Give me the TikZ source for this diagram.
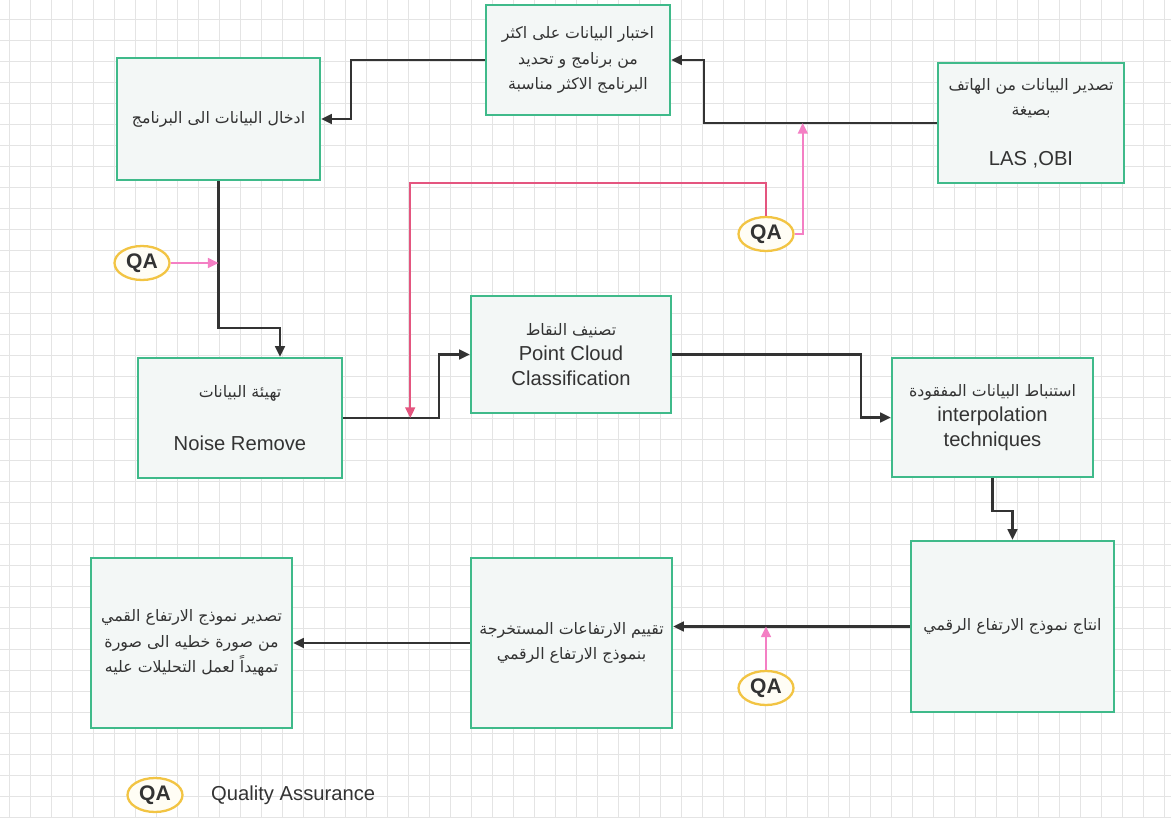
\documentclass[tikz,border=0pt]{standalone}
\usepackage{fontspec}
\setmainfont{Liberation Sans}
\newfontfamily\arabicfont[Script=Arabic]{DejaVu Sans}
\TeXXeTstate=1
\usetikzlibrary{arrows.meta,calc,shapes.geometric}
\definecolor{boxgreen}{HTML}{3FBA8A}
\definecolor{boxfill}{HTML}{F3F7F6}
\definecolor{qaedge}{HTML}{F2C443}
\definecolor{qafill}{HTML}{FFFDF5}
\definecolor{linkgray}{HTML}{333333}
\definecolor{qapink}{HTML}{F47FC4}
\definecolor{qared}{HTML}{E4557F}
\definecolor{gridgray}{HTML}{E4E4E4}
\definecolor{textgray}{HTML}{333333}
\newcommand{\arline}[1]{{\arabicfont\fontsize{9}{14}\selectfont\beginR #1\endR}}
\tikzset{
  stepbox/.style 2 args={draw=boxgreen, line width=1.4pt, fill=boxfill,
    minimum width=#1*0.02cm, minimum height=#2*0.02cm, inner sep=0pt,
    align=center, text=textgray, font=\fontsize{11.5}{14.3}\selectfont},
  qa/.style={ellipse, draw=qaedge, line width=1.3pt, fill=qafill, inner sep=0pt,
    minimum width=1.1cm, minimum height=0.68cm, text=textgray,
    font=\bfseries\fontsize{12}{14}\selectfont},
  link/.style={draw=linkgray, line width=1.2pt, -{Triangle[length=6pt,width=5.5pt]}},
  qalink/.style={draw=qapink, line width=1.2pt, -{Triangle[length=6pt,width=5.5pt]}},
  gridline/.style={draw=gridgray, line width=0.5pt}
}
\begin{document}
\begin{tikzpicture}[x=0.02cm, y=-0.02cm]
  \useasboundingbox (0,0) rectangle (1171,818);
  \fill[white] (0,0) rectangle (1171,818);
  % background grid
  \foreach \gx in {9,30,...,1171} \draw[gridline] (\gx,0) -- (\gx,818);
  \foreach \gy in {19,40,...,818} \draw[gridline] (0,\gy) -- (1171,\gy);

  % steps
  \node[stepbox={184}{110}] (choose) at (578,60)
    {\arline{اختبار البيانات على اكثر}\\\arline{من برنامج و تحديد}\\\arline{البرنامج الاكثر مناسبة}};
  \node[stepbox={186}{120}] (phone) at (1031,123)
    {\arline{تصدير البيانات من الهاتف}\\\arline{بصيغة}\\[14pt]LAS ,OBI};
  \node[stepbox={203}{122}] (load) at (218.5,119)
    {\arline{ادخال البيانات الى البرنامج}};
  \node[stepbox={204}{120}] (noise) at (240,418)
    {\arline{تهيئة البيانات}\\[16pt]Noise Remove};
  \node[stepbox={200}{117}] (classify) at (571,354.5)
    {\arline{تصنيف النقاط}\\Point Cloud\\Classification};
  \node[stepbox={201}{119}] (interp) at (992.5,417.5)
    {\arline{استنباط البيانات المفقودة}\\interpolation\\techniques};
  \node[stepbox={203}{171}] (dem) at (1012.5,626.5)
    {\arline{انتاج نموذج الارتفاع الرقمي}};
  \node[stepbox={201}{170}] (evaluate) at (571.5,643)
    {\arline{تقييم الارتفاعات المستخرجة}\\\arline{بنموذج الارتفاع الرقمي}};
  \node[stepbox={201}{170}] (export) at (191.5,643)
    {\arline{تصدير نموذج الارتفاع القمي}\\\arline{من صورة خطيه الى صورة}\\\arline{تمهيداً لعمل التحليلات عليه}};

  % quality checks
  \node[qa] (qa1) at (142,263) {QA};
  \node[qa] (qa2) at (766,234) {QA};
  \node[qa] (qa3) at (766,688) {QA};
  \node[qa] (qakey) at (155,795) {QA};
  \node[anchor=west, text=textgray, font=\fontsize{11.5}{14}\selectfont] (qatext) at (205,795) {Quality Assurance};

  % flow
  \draw[link] (phone.west) -| ($(choose.east)+(33,0)$) -- (choose.east);
  \draw[link] (choose.west) -| ($(load.east)+(30,0)$) -- (load.east);
  \draw[link] (load.south) -- ++(0,147) -| ($(noise.north)+(40,0)$);
  \draw[link] (noise.east) -- ++(96,0) |- (classify.west);
  \draw[link] (classify.east) -- ++(189,0) |- (interp.west);
  \draw[link] (interp.south) -- ++(0,33) -| (dem.north);
  \draw[link] (dem.west) -- (dem.west -| evaluate.east);
  \draw[link] (evaluate.west) -- (export.east);

  \draw[qalink] (qa1.east) -- (qa1.east -| load.south);
  \draw[qalink, draw=qared] (qa2.north) -- ++(0,-33) -| ($(noise.east)+(67,0)$);
  \draw[qalink] (qa2.east) -| ($(phone.west)+(-134,0)$);
  \draw[qalink] (qa3.north) -- (qa3.north |- dem.west);
\end{tikzpicture}
\end{document}
